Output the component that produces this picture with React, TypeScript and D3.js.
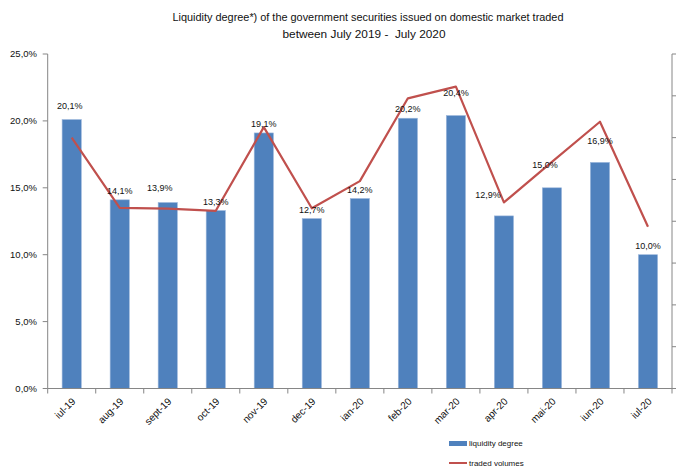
import React from "react";
import * as d3 from "d3";

const categories = ["iul-19","aug-19","sept-19","oct-19","nov-19","dec-19","ian-20","feb-20","mar-20","apr-20","mai-20","iun-20","iul-20"];
const liquidityDegree = [20.1, 14.1, 13.9, 13.3, 19.1, 12.7, 14.2, 20.2, 20.4, 12.9, 15.0, 16.9, 10.0];
// traded volumes on an unlabelled secondary axis (0..8)
const tradedVolumes = [6.0, 4.32, 4.3, 4.25, 6.25, 4.31, 4.96, 6.94, 7.22, 4.45, 5.42, 6.38, 3.87];
const leftTicks = [0, 5, 10, 15, 20, 25];
const rightTicks = [0, 1, 2, 3, 4, 5, 6, 7, 8];
// manual label nudges [dx, dy] as in the original
const labelNudges: [number, number][] = [[-2,-4.6],[0,0],[-8,-5.6],[0,0],[0,0],[0,0],[0,0],[0,0],[0,-13.4],[-16,-11.7],[-7,-14.4],[0,-12.7],[0,0]];

const W = 678, H = 470;
const L = 47.7, R = 672, T = 54, B = 388.5;
const AX = "#868686";
const FONT = "'Liberation Sans', Arial, sans-serif";

const fmt = (v: number) => v.toFixed(1).replace(".", ",") + "%";

export default function App() {
  const x = d3.scaleBand<string>().domain(categories).range([L, R]).paddingInner(0.6).paddingOuter(0.3);
  const y = d3.scaleLinear().domain([0, 25]).range([B, T]);
  const y2 = d3.scaleLinear().domain([0, 8]).range([B, T]);
  const step = x.step();
  const start = x.range()[0];
  const cx = (c: string) => (x(c) as number) + x.bandwidth() / 2;
  const line = d3.line<number>().x((_, i) => cx(categories[i])).y((v) => y2(v));

  return (
    <svg width={W} height={H} style={{ position: "absolute", left: 0, top: 0, background: "#fff" }} fontFamily={FONT}>
      <rect width={W} height={H} fill="#fff" />
      <text x={368} y={21} textAnchor="middle" fontSize={11} fill="#111" textLength={391} lengthAdjust="spacingAndGlyphs">Liquidity degree*) of the government securities issued on domestic market traded</text>
      <text x={364} y={38} textAnchor="middle" fontSize={11} fill="#111" textLength={163} lengthAdjust="spacingAndGlyphs" style={{ whiteSpace: "pre" }}>between July 2019 -  July 2020</text>

      {/* left axis */}
      <line x1={L} x2={L} y1={T} y2={B} stroke={AX} strokeWidth={1} />
      {leftTicks.map((t) => (
        <g key={t}>
          <line x1={L - 5} x2={L} y1={y(t)} y2={y(t)} stroke={AX} />
          <text x={37} y={y(t)} dy="0.35em" textAnchor="end" fontSize={9.5} fill="#111">{fmt(t)}</text>
        </g>
      ))}

      {/* right axis */}
      <line x1={R} x2={R} y1={T} y2={B} stroke={AX} strokeWidth={1} />
      {rightTicks.map((t) => (
        <line key={t} x1={R} x2={R + 4} y1={y2(t)} y2={y2(t)} stroke={AX} />
      ))}

      {/* bars */}
      {categories.map((c, i) => (
        <rect key={c} x={x(c)} y={y(liquidityDegree[i])} width={x.bandwidth()} height={B - y(liquidityDegree[i])} fill="#4F81BD" stroke="#9DB8DC" strokeWidth={0.6} />
      ))}

      {/* bottom axis */}
      <line x1={L} x2={R} y1={B} y2={B} stroke={AX} />
      {d3.range(categories.length + 1).map((i) => (
        <line key={i} x1={start + i * step} x2={start + i * step} y1={B} y2={B + 5} stroke={AX} />
      ))}
      {categories.map((c) => (
        <text key={c} transform={`translate(${cx(c) + 2},${B + 11}) rotate(-45)`} textAnchor="end" dy="0.35em" fontSize={10} fill="#111">{c}</text>
      ))}

      {/* line */}
      <path d={line(tradedVolumes) || ""} fill="none" stroke="#C0504D" strokeWidth={2.2} strokeLinejoin="round" />

      {/* bar labels */}
      {categories.map((c, i) => (
        <text key={c} x={cx(c) + labelNudges[i][0]} y={y(liquidityDegree[i]) - 9 + labelNudges[i][1]} dy="0.35em" textAnchor="middle" fontSize={9} fill="#111">{fmt(liquidityDegree[i])}</text>
      ))}

      {/* legend */}
      <rect x={449} y={441} width={18} height={5} fill="#4F81BD" />
      <text x={469} y={443.5} dy="0.35em" fontSize={8} fill="#111">liquidity degree</text>
      <line x1={449} x2={467} y1={463} y2={463} stroke="#C0504D" strokeWidth={2} />
      <text x={469} y={463} dy="0.35em" fontSize={8} fill="#111">traded volumes</text>
    </svg>
  );
}
